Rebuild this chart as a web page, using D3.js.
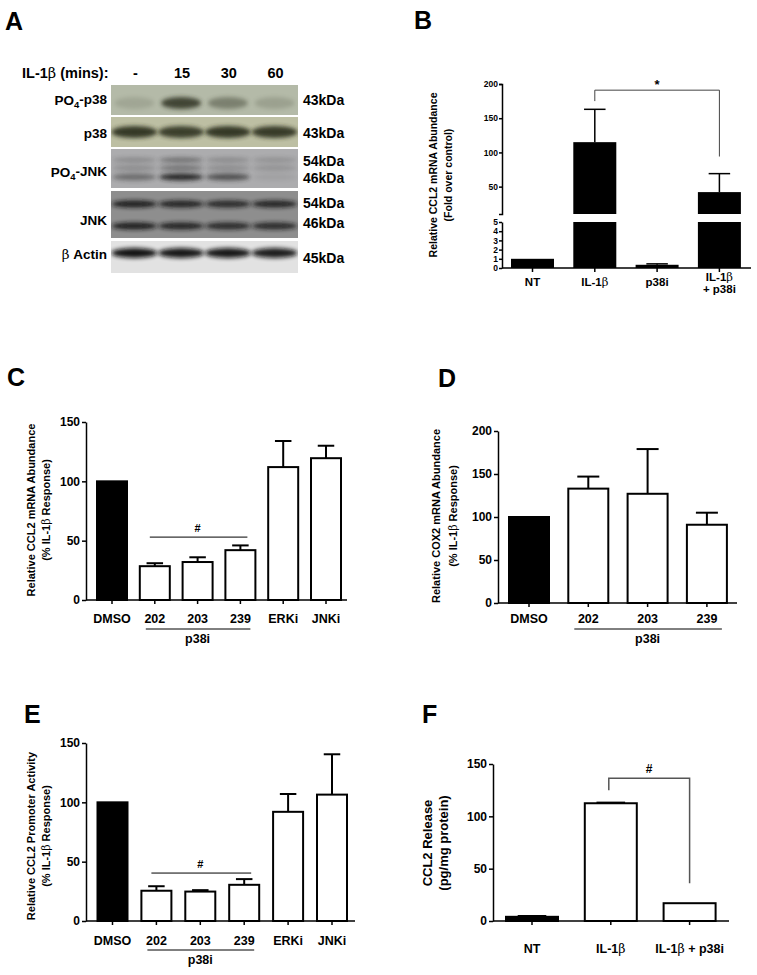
<!DOCTYPE html>
<html>
<head>
<meta charset="utf-8">
<script src="https://cdn.jsdelivr.net/npm/d3@7"></script>
<style>
body { margin: 0; background: #fff; }
svg { display: block; font-family: "Liberation Sans", Arial, sans-serif; font-weight: bold; }
</style>
</head>
<body>
<svg id="fig" width="757" height="975"></svg>
<script>
/*global d3 */
(function () {
    "use strict";

    // panel A: blot band intensity per lane (0-1)
    var blotLanes = ["-", "15", "30", "60"];
    var po4p38Band = [0.14, 0.85, 0.42, 0.18];
    var p38Band = [0.92, 0.88, 0.92, 0.9];
    var po4Jnk54Band = [0.25, 0.45, 0.25, 0.2];
    var po4Jnk46Band = [0.45, 0.95, 0.65, 0.08];
    var jnk54Band = [0.95, 0.9, 0.85, 0.9];
    var jnk46Band = [0.95, 0.9, 0.85, 0.85];
    var actinBand = [0.97, 0.95, 0.95, 0.92];

    // panel B (broken axis)
    var bCats = ["NT", "IL-1β", "p38i", "IL-1β + p38i"];
    var bMeans = [1, 115, 0.35, 42];
    var bSem = [0, 48, 0.1, 27];
    var bTicksUpper = [50, 100, 150, 200];
    var bTicksLower = [0, 1, 2, 3, 4, 5];

    // panel C
    var cCats = ["DMSO", "202", "203", "239", "ERKi", "JNKi"];
    var cMeans = [100, 28.5, 32, 42, 112, 119.5];
    var cSem = [0, 2.5, 4, 4, 22, 10.5];
    var cTicks = [0, 50, 100, 150];

    // panel D
    var dCats = ["DMSO", "202", "203", "239"];
    var dMeans = [100, 133, 127, 91];
    var dSem = [0, 14, 52, 14];
    var dTicks = [0, 50, 100, 150, 200];

    // panel E
    var eCats = ["DMSO", "202", "203", "239", "ERKi", "JNKi"];
    var eMeans = [100, 25.5, 24.8, 30.5, 92, 106.5];
    var eSem = [0, 3.8, 1.2, 4.8, 15, 34];
    var eTicks = [0, 50, 100, 150];

    // panel F
    var fCats = ["NT", "IL-1β", "IL-1β + p38i"];
    var fMeans = [4, 112.5, 17];
    var fSem = [0.8, 0.6, 0];
    var fTicks = [0, 50, 100, 150];

    var svg = d3.select("#fig");
    var FONT = "\"Liberation Sans\", Arial, sans-serif";

    //text with a serif beta and "_4" as subscript
    function richText (text, str) {
        var shifted = false;
        text.text(null);
        str.split(/(β|_\d)/).forEach(function (part) {
            var t;
            if(!part) {
                return; }
            if(part.charAt(0) === "_") {
                text.append("tspan").text(part.slice(1))
                    .attr("font-size", "0.7em").attr("dy", "0.35em");
                shifted = true;
                return; }
            t = text.append("tspan").text(part);
            if(shifted) {
                t.attr("dy", "-0.35em");
                shifted = false; }
            if(part === "β") {
                t.attr("font-family", "\"DejaVu Serif\", serif")
                    .attr("font-weight", "normal"); }
        });
    }

    function addText (g, str, x, y, size, anchor) {
        var t = g.append("text")
            .attr("x", x).attr("y", y)
            .attr("font-size", size)
            .attr("font-weight", "bold")
            .attr("text-anchor", anchor || "start");
        richText(t, str);
        return t;
    }

    function panelLetter (str, x, y) {
        addText(svg, str, x, y, 25);
    }

    function yTitle (lines, xs, yc, size) {
        lines.forEach(function (line, i) {
            var t = svg.append("text")
                .attr("transform", "translate(" + (xs[i] + size * 0.35) + "," + yc + ") rotate(-90)")
                .attr("font-size", size)
                .attr("font-weight", "bold")
                .attr("text-anchor", "middle");
            richText(t, line);
        });
    }

    function styleAxis (sel, size) {
        sel.attr("font-family", FONT).attr("font-size", size).attr("font-weight", "bold");
        sel.selectAll("path, line").attr("stroke", "#000").attr("stroke-width", 1.5);
        sel.selectAll("text").attr("fill", "#000");
    }

    function bandScale (cats, c0, step, bw) {
        var pad = 1 - bw / step;
        return d3.scaleBand().domain(cats)
            .range([c0 - step / 2, c0 + step * (cats.length - 0.5)])
            .paddingInner(pad).paddingOuter(pad / 2);
    }

    function errorBars (g, x, yOf, cats, means, sem, capFrac, width) {
        cats.forEach(function (c, i) {
            var cx, sc, top, cap;
            if(!sem[i]) {
                return; }
            sc = yOf(means[i]);
            cx = x(c) + x.bandwidth() / 2;
            top = sc(means[i] + sem[i]);
            cap = x.bandwidth() * capFrac / 2;
            g.append("line").attr("x1", cx).attr("x2", cx)
                .attr("y1", sc(means[i])).attr("y2", top)
                .attr("stroke", "#000").attr("stroke-width", width);
            g.append("line").attr("x1", cx - cap).attr("x2", cx + cap)
                .attr("y1", top).attr("y2", top)
                .attr("stroke", "#000").attr("stroke-width", width);
        });
    }

    function barPanel (p) {
        var g = svg.append("g"), x, y, xa, mid;
        x = bandScale(p.cats, p.c0, p.step, p.bw);
        y = d3.scaleLinear().domain(p.domain).range([p.yBase, p.yTop]);
        g.append("g")
            .attr("transform", "translate(" + p.axisX + ",0)")
            .call(d3.axisLeft(y).tickValues(p.ticks).tickSize(4).tickSizeOuter(0).tickPadding(2))
            .call(styleAxis, p.tickFont);
        xa = g.append("g")
            .attr("transform", "translate(0," + p.yBase + ")")
            .call(d3.axisBottom(x).tickSize(4).tickSizeOuter(0))
            .call(styleAxis, p.catFont);
        xa.select(".domain").remove();
        xa.append("line").attr("x1", p.axisX).attr("x2", p.axisEnd)
            .attr("stroke", "#000").attr("stroke-width", 1.5);
        xa.selectAll(".tick text").each(function (d) {
            var t = d3.select(this).attr("y", p.labelDy).attr("dy", 0);
            richText(t, d);
        });
        g.selectAll("rect.bar").data(p.cats).join("rect")
            .attr("class", "bar")
            .attr("x", function (c) { return x(c); })
            .attr("width", x.bandwidth())
            .attr("y", function (c, i) { return y(p.means[i]); })
            .attr("height", function (c, i) { return p.yBase - y(p.means[i]); })
            .attr("fill", function (c) { return p.solid.indexOf(c) >= 0 ? "#000" : "#fff"; })
            .attr("stroke", "#000").attr("stroke-width", 2);
        errorBars(g, x, function () { return y; }, p.cats, p.means, p.sem, 0.55, 2);
        if(p.group) {
            mid = (x(p.group[0]) + x(p.group[1]) + x.bandwidth()) / 2;
            g.append("line")
                .attr("x1", x(p.group[0]) + 6)
                .attr("x2", x(p.group[1]) + x.bandwidth() - 5)
                .attr("y1", p.yBase + p.groupDy).attr("y2", p.yBase + p.groupDy)
                .attr("stroke", "#000").attr("stroke-width", 1);
            addText(g, "p38i", mid, p.yBase + p.groupDy + 14, p.catFont, "middle"); }
        if(p.sigLine) {
            g.append("line")
                .attr("x1", x(p.group[0]) + 10)
                .attr("x2", x(p.group[1]) + x.bandwidth() - 8)
                .attr("y1", y(p.sigLine)).attr("y2", y(p.sigLine))
                .attr("stroke", "#000").attr("stroke-width", 1);
            addText(g, "#", mid, y(p.sigLine) - 5, 11, "middle"); }
        return {g: g, x: x, y: y};
    }

    function blotPanel () {
        var g = svg.append("g"), x, defs, strips;
        x = d3.scaleBand().domain(blotLanes).range([111, 298]);
        defs = svg.append("defs");
        defs.append("filter").attr("id", "blur")
            .attr("x", "-50%").attr("y", "-100%").attr("width", "200%").attr("height", "300%")
            .append("feGaussianBlur").attr("stdDeviation", 2.2);
        addText(g, "IL-1β (mins):", 22, 78, 14.5);
        blotLanes.forEach(function (l) {
            addText(g, l, x(l) + x.bandwidth() / 2 + 1, 78, 14.5, "middle");
        });
        strips = [
            {label: "PO_4-p38", ly: 105, y0: 85, y1: 115, bg: "#b4baa8", ink: "#2e3124",
             bands: [{y: 103, ry: 6, rx: 20, vals: po4p38Band}],
             kda: [["43kDa", 105]]},
            {label: "p38", ly: 138, y0: 117, y1: 147, bg: "#bdbfa3", ink: "#2c2e1f",
             bands: [{y: 132, ry: 6, rx: 23, vals: p38Band}],
             kda: [["43kDa", 138]]},
            {label: "PO_4-JNK", ly: 177, y0: 149, y1: 188, bg: "#acacae", ink: "#202020",
             bands: [{y: 160, ry: 2.5, rx: 22, vals: po4Jnk54Band},
                     {y: 168, ry: 2.5, rx: 22, vals: po4Jnk54Band},
                     {y: 177, ry: 3.5, rx: 22, vals: po4Jnk46Band}],
             kda: [["54kDa", 166], ["46kDa", 183]]},
            {label: "JNK", ly: 225, y0: 191, y1: 238, bg: "#8e8e8e", ink: "#151515",
             bands: [{y: 204, ry: 3.5, rx: 23, vals: jnk54Band},
                     {y: 226, ry: 3.5, rx: 23, vals: jnk46Band}],
             kda: [["54kDa", 208], ["46kDa", 228]]},
            {label: "β Actin", ly: 259, y0: 241, y1: 273, bg: "#e2e2e2", ink: "#111",
             bands: [{y: 253, ry: 5, rx: 23, vals: actinBand}],
             kda: [["45kDa", 263]]}
        ];
        strips.forEach(function (s, i) {
            var clipId = "strip" + i, sg;
            defs.append("clipPath").attr("id", clipId)
                .append("rect").attr("x", 111).attr("y", s.y0)
                .attr("width", 187).attr("height", s.y1 - s.y0);
            sg = g.append("g").attr("clip-path", "url(#" + clipId + ")");
            sg.append("rect").attr("x", 111).attr("y", s.y0)
                .attr("width", 187).attr("height", s.y1 - s.y0)
                .attr("fill", s.bg);
            s.bands.forEach(function (b) {
                sg.selectAll(null).data(blotLanes).join("ellipse")
                    .attr("cx", function (l) { return x(l) + x.bandwidth() / 2; })
                    .attr("cy", b.y)
                    .attr("rx", b.rx).attr("ry", b.ry)
                    .attr("fill", s.ink)
                    .attr("opacity", function (l, j) { return b.vals[j]; })
                    .attr("filter", "url(#blur)");
            });
            addText(g, s.label, 107, s.ly, 13.5, "end");
            s.kda.forEach(function (k) {
                addText(g, k[0], 303, k[1], 14);
            });
        });
    }

    function breakPanel () {
        var g = svg.append("g"), x, yUp, yLo, xa, cut = 10, l1, l3;
        x = bandScale(bCats, 532.5, 62.3, 43);
        yUp = d3.scaleLinear().domain([cut, 200]).range([214, 84]);
        yLo = d3.scaleLinear().domain([0, 5]).range([268, 222]);
        g.append("g").attr("transform", "translate(502,0)")
            .call(d3.axisLeft(yUp).tickValues(bTicksUpper).tickSize(3).tickSizeOuter(3).tickPadding(1))
            .call(styleAxis, 8.5);
        g.append("g").attr("transform", "translate(502,0)")
            .call(d3.axisLeft(yLo).tickValues(bTicksLower).tickFormat(d3.format("d"))
                  .tickSize(3).tickSizeOuter(0).tickPadding(1))
            .call(styleAxis, 8.5);
        xa = g.append("g").attr("transform", "translate(0,268)")
            .call(d3.axisBottom(x).tickSize(4).tickSizeOuter(0))
            .call(styleAxis, 11.5);
        xa.select(".domain").remove();
        xa.append("line").attr("x1", 502).attr("x2", 751)
            .attr("stroke", "#000").attr("stroke-width", 1.5);
        xa.selectAll(".tick text").each(function (d) {
            var t = d3.select(this).attr("y", 18).attr("dy", 0), parts;
            parts = d.split(" + ");
            if(parts.length > 1) {
                richText(t.attr("y", 13), parts[0]);
                richText(d3.select(this.parentNode).append("text")
                         .attr("y", 25).attr("fill", "#000"), "+ " + parts[1]);
                return; }
            richText(t, d);
        });
        bCats.forEach(function (c, i) {
            var v = bMeans[i];
            g.append("rect").attr("x", x(c)).attr("width", x.bandwidth())
                .attr("y", yLo(Math.min(v, 5))).attr("height", 268 - yLo(Math.min(v, 5)))
                .attr("fill", "#000");
            if(v > cut) {
                g.append("rect").attr("x", x(c)).attr("width", x.bandwidth())
                    .attr("y", yUp(v)).attr("height", yUp(cut) - yUp(v))
                    .attr("fill", "#000"); }
        });
        errorBars(g, x, function (v) { return v > cut ? yUp : yLo; },
                  bCats, bMeans, bSem, 0.5, 1.5);
        //significance bracket IL-1b vs IL-1b + p38i
        l1 = x(bCats[1]) + x.bandwidth() / 2;
        l3 = x(bCats[3]) + x.bandwidth() / 2;
        g.append("path")
            .attr("d", d3.line()([[l1, yUp(175)], [l1, yUp(191)], [l3, yUp(191)], [l3, yUp(94)]]))
            .attr("fill", "none").attr("stroke", "#444").attr("stroke-width", 1);
        addText(g, "*", (l1 + l3) / 2, yUp(191) - 1, 13, "middle");
    }

    panelLetter("A", 5, 30);
    blotPanel();

    panelLetter("B", 414, 29);
    yTitle(["Relative CCL2 mRNA Abundance", "(Fold over control)"], [433, 448], 175, 10.5);
    breakPanel();

    panelLetter("C", 7, 386);
    yTitle(["Relative CCL2 mRNA Abundance", "(% IL-1β Response)"], [31, 46], 510, 11);
    barPanel({cats: cCats, means: cMeans, sem: cSem, ticks: cTicks, solid: ["DMSO"],
              domain: [0, 150], yBase: 600, yTop: 422, axisX: 86, axisEnd: 347,
              c0: 112, step: 42.8, bw: 30, tickFont: 12, catFont: 12.5, labelDy: 23,
              group: ["202", "239"], groupDy: 29, sigLine: 53});

    panelLetter("D", 438, 387);
    yTitle(["Relative COX2 mRNA Abundance", "(% IL-1β Response)"], [436, 453], 516, 11);
    barPanel({cats: dCats, means: dMeans, sem: dSem, ticks: dTicks, solid: ["DMSO"],
              domain: [0, 200], yBase: 603, yTop: 431, axisX: 498, axisEnd: 737,
              c0: 529, step: 59.3, bw: 40, tickFont: 12, catFont: 12.5, labelDy: 20,
              group: ["202", "239"], groupDy: 26});

    panelLetter("E", 24, 723);
    yTitle(["Relative CCL2 Promoter Activity", "(% IL-1β Response)"], [31, 46], 836, 11);
    barPanel({cats: eCats, means: eMeans, sem: eSem, ticks: eTicks, solid: ["DMSO"],
              domain: [0, 150], yBase: 921, yTop: 743, axisX: 86, axisEnd: 355,
              c0: 112.5, step: 43.9, bw: 30, tickFont: 12, catFont: 12.5, labelDy: 24,
              group: ["202", "239"], groupDy: 29, sigLine: 40.4});

    panelLetter("F", 422, 723);
    yTitle(["CCL2 Release", "(pg/mg protein)"], [427, 443], 843, 13);
    (function () {
        var f = barPanel({cats: fCats, means: fMeans, sem: fSem, ticks: fTicks, solid: ["NT"],
                          domain: [0, 150], yBase: 921, yTop: 764, axisX: 493, axisEnd: 729,
                          c0: 532, step: 78.8, bw: 52, tickFont: 12, catFont: 12.5, labelDy: 32});
        var xl = f.x(fCats[1]) + f.x.bandwidth() / 2 - 2,
            xr = f.x(fCats[2]) + f.x.bandwidth() / 2;
        f.g.append("path")
            .attr("d", d3.line()([[xl, f.y(125)], [xl, f.y(136.5)], [xr, f.y(136.5)], [xr, f.y(36)]]))
            .attr("fill", "none").attr("stroke", "#555").attr("stroke-width", 1.5);
        addText(f.g, "#", (xl + xr) / 2, f.y(136.5) - 5, 12, "middle");
    }());
}());
</script>
</body>
</html>
